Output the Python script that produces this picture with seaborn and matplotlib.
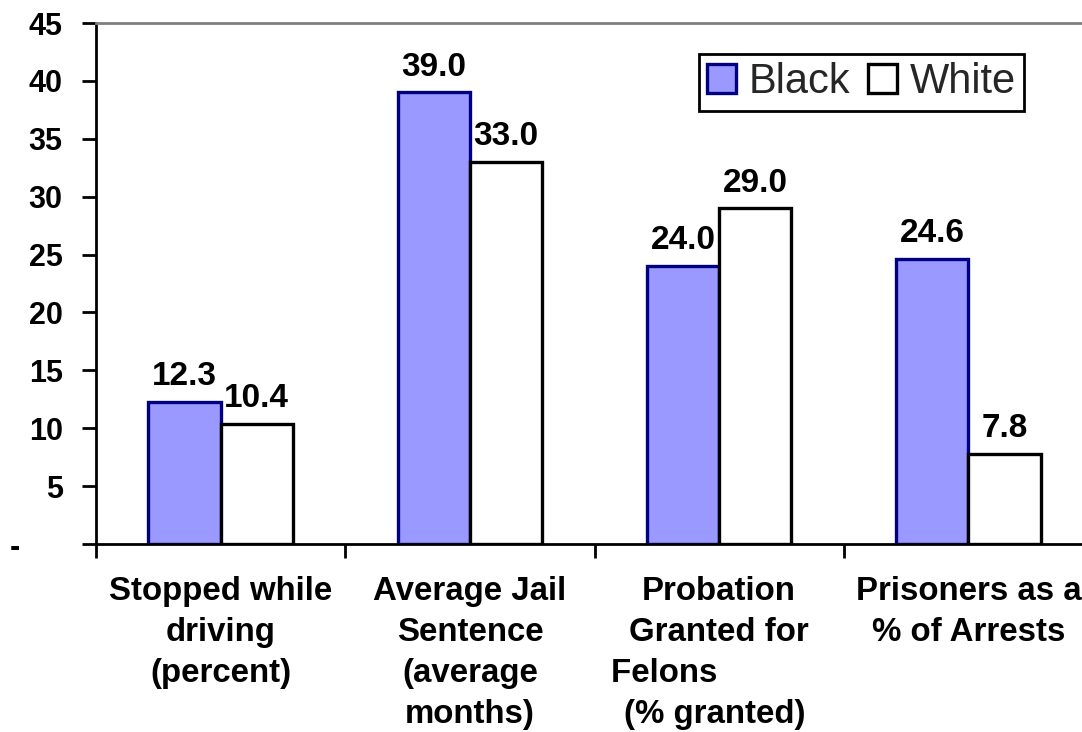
import numpy as np
import pandas as pd
import matplotlib
matplotlib.use("Agg")
import matplotlib.pyplot as plt
import matplotlib.patches as mpatches
import seaborn as sns

# ---- data ----
categories = [
    "Stopped while\ndriving\n(percent)",
    "Average Jail\nSentence\n(average\nmonths)",
    "Probation\nGranted for\nFelons            \n(% granted) ",
    "Prisoners as a\n% of Arrests",
]
series_names = ["Black", "White"]
black_values = [12.3, 39.0, 24.0, 24.6]
white_values = [10.4, 33.0, 29.0, 7.8]
ytick_values = [0, 5, 10, 15, 20, 25, 30, 35, 40, 45]
ytick_labels = ["-     ", "5", "10", "15", "20", "25", "30", "35", "40", "45"]

fill_colors = {"Black": "#9999FF", "White": "#FFFFFF"}
edge_colors = {"Black": "#000080", "White": "#000000"}

sns.set_theme(style="white")
plt.rcParams["font.family"] = ["Liberation Sans", "DejaVu Sans"]
plt.rcParams["font.weight"] = "bold"

df = pd.DataFrame({
    "category": categories * 2,
    "series": [series_names[0]] * len(categories) + [series_names[1]] * len(categories),
    "value": black_values + white_values,
})

W, H = 1082, 732
fig = plt.figure(figsize=(W / 100, H / 100), dpi=100)
L, R, B, T = 96, 1093, 544, 23
ax = fig.add_axes([L / W, 1 - B / H, (R - L) / W, (B - T) / H])

sns.barplot(data=df, x="category", y="value", hue="series", hue_order=series_names,
            order=categories, palette=fill_colors, width=0.58, gap=0, saturation=1,
            errorbar=None, legend=False, ax=ax)

for cont, name in zip(ax.containers, series_names):
    for p in cont:
        p.set_edgecolor(edge_colors[name])
        p.set_linewidth(2.4)
    ax.bar_label(cont, fmt="%.1f", padding=7, fontsize=24, fontweight="bold", color="black")

ax.set_xlim(-0.5, len(categories) - 0.5)
ax.set_ylim(0, 45)
ax.set_xlabel("")
ax.set_ylabel("")

ax.set_xticks(np.arange(-0.5, len(categories), 1.0))
ax.set_xticklabels([])
ax.set_xticks(np.arange(len(categories)), minor=True)
ax.set_xticklabels(categories, minor=True, fontsize=23.8, fontweight="bold", linespacing=1.42)
ax.tick_params(axis="x", which="major", bottom=True, length=10, width=2, direction="out", color="black")
ax.tick_params(axis="x", which="minor", bottom=True, length=0, pad=23, labelcolor="black")

ax.set_yticks(ytick_values)
ax.set_yticklabels(ytick_labels, fontsize=22, fontweight="bold")
ax.tick_params(axis="y", which="major", left=True, length=10, width=2, direction="out",
               pad=14, color="black", labelcolor="black")

for s in ["left", "bottom"]:
    ax.spines[s].set_color("black")
    ax.spines[s].set_linewidth(2)
ax.spines["top"].set_color("#808080")
ax.spines["top"].set_linewidth(2)
ax.spines["right"].set_visible(False)

handles = [mpatches.Patch(facecolor=fill_colors[n], edgecolor=edge_colors[n], linewidth=2.4, label=n)
           for n in series_names]
leg = ax.legend(handles=handles, loc="upper right", bbox_to_anchor=(1024 / W, 1 - 54 / H),
                bbox_transform=fig.transFigure, ncol=2, prop={"size": 30, "weight": "normal"},
                frameon=True, fancybox=False, edgecolor="black", framealpha=1, borderaxespad=0,
                handlelength=0.7, handleheight=0.7, handletextpad=0.3, columnspacing=0.42,
                borderpad=0.2)
leg.get_frame().set_linewidth(2)

fig.savefig("out.png", dpi=100)
